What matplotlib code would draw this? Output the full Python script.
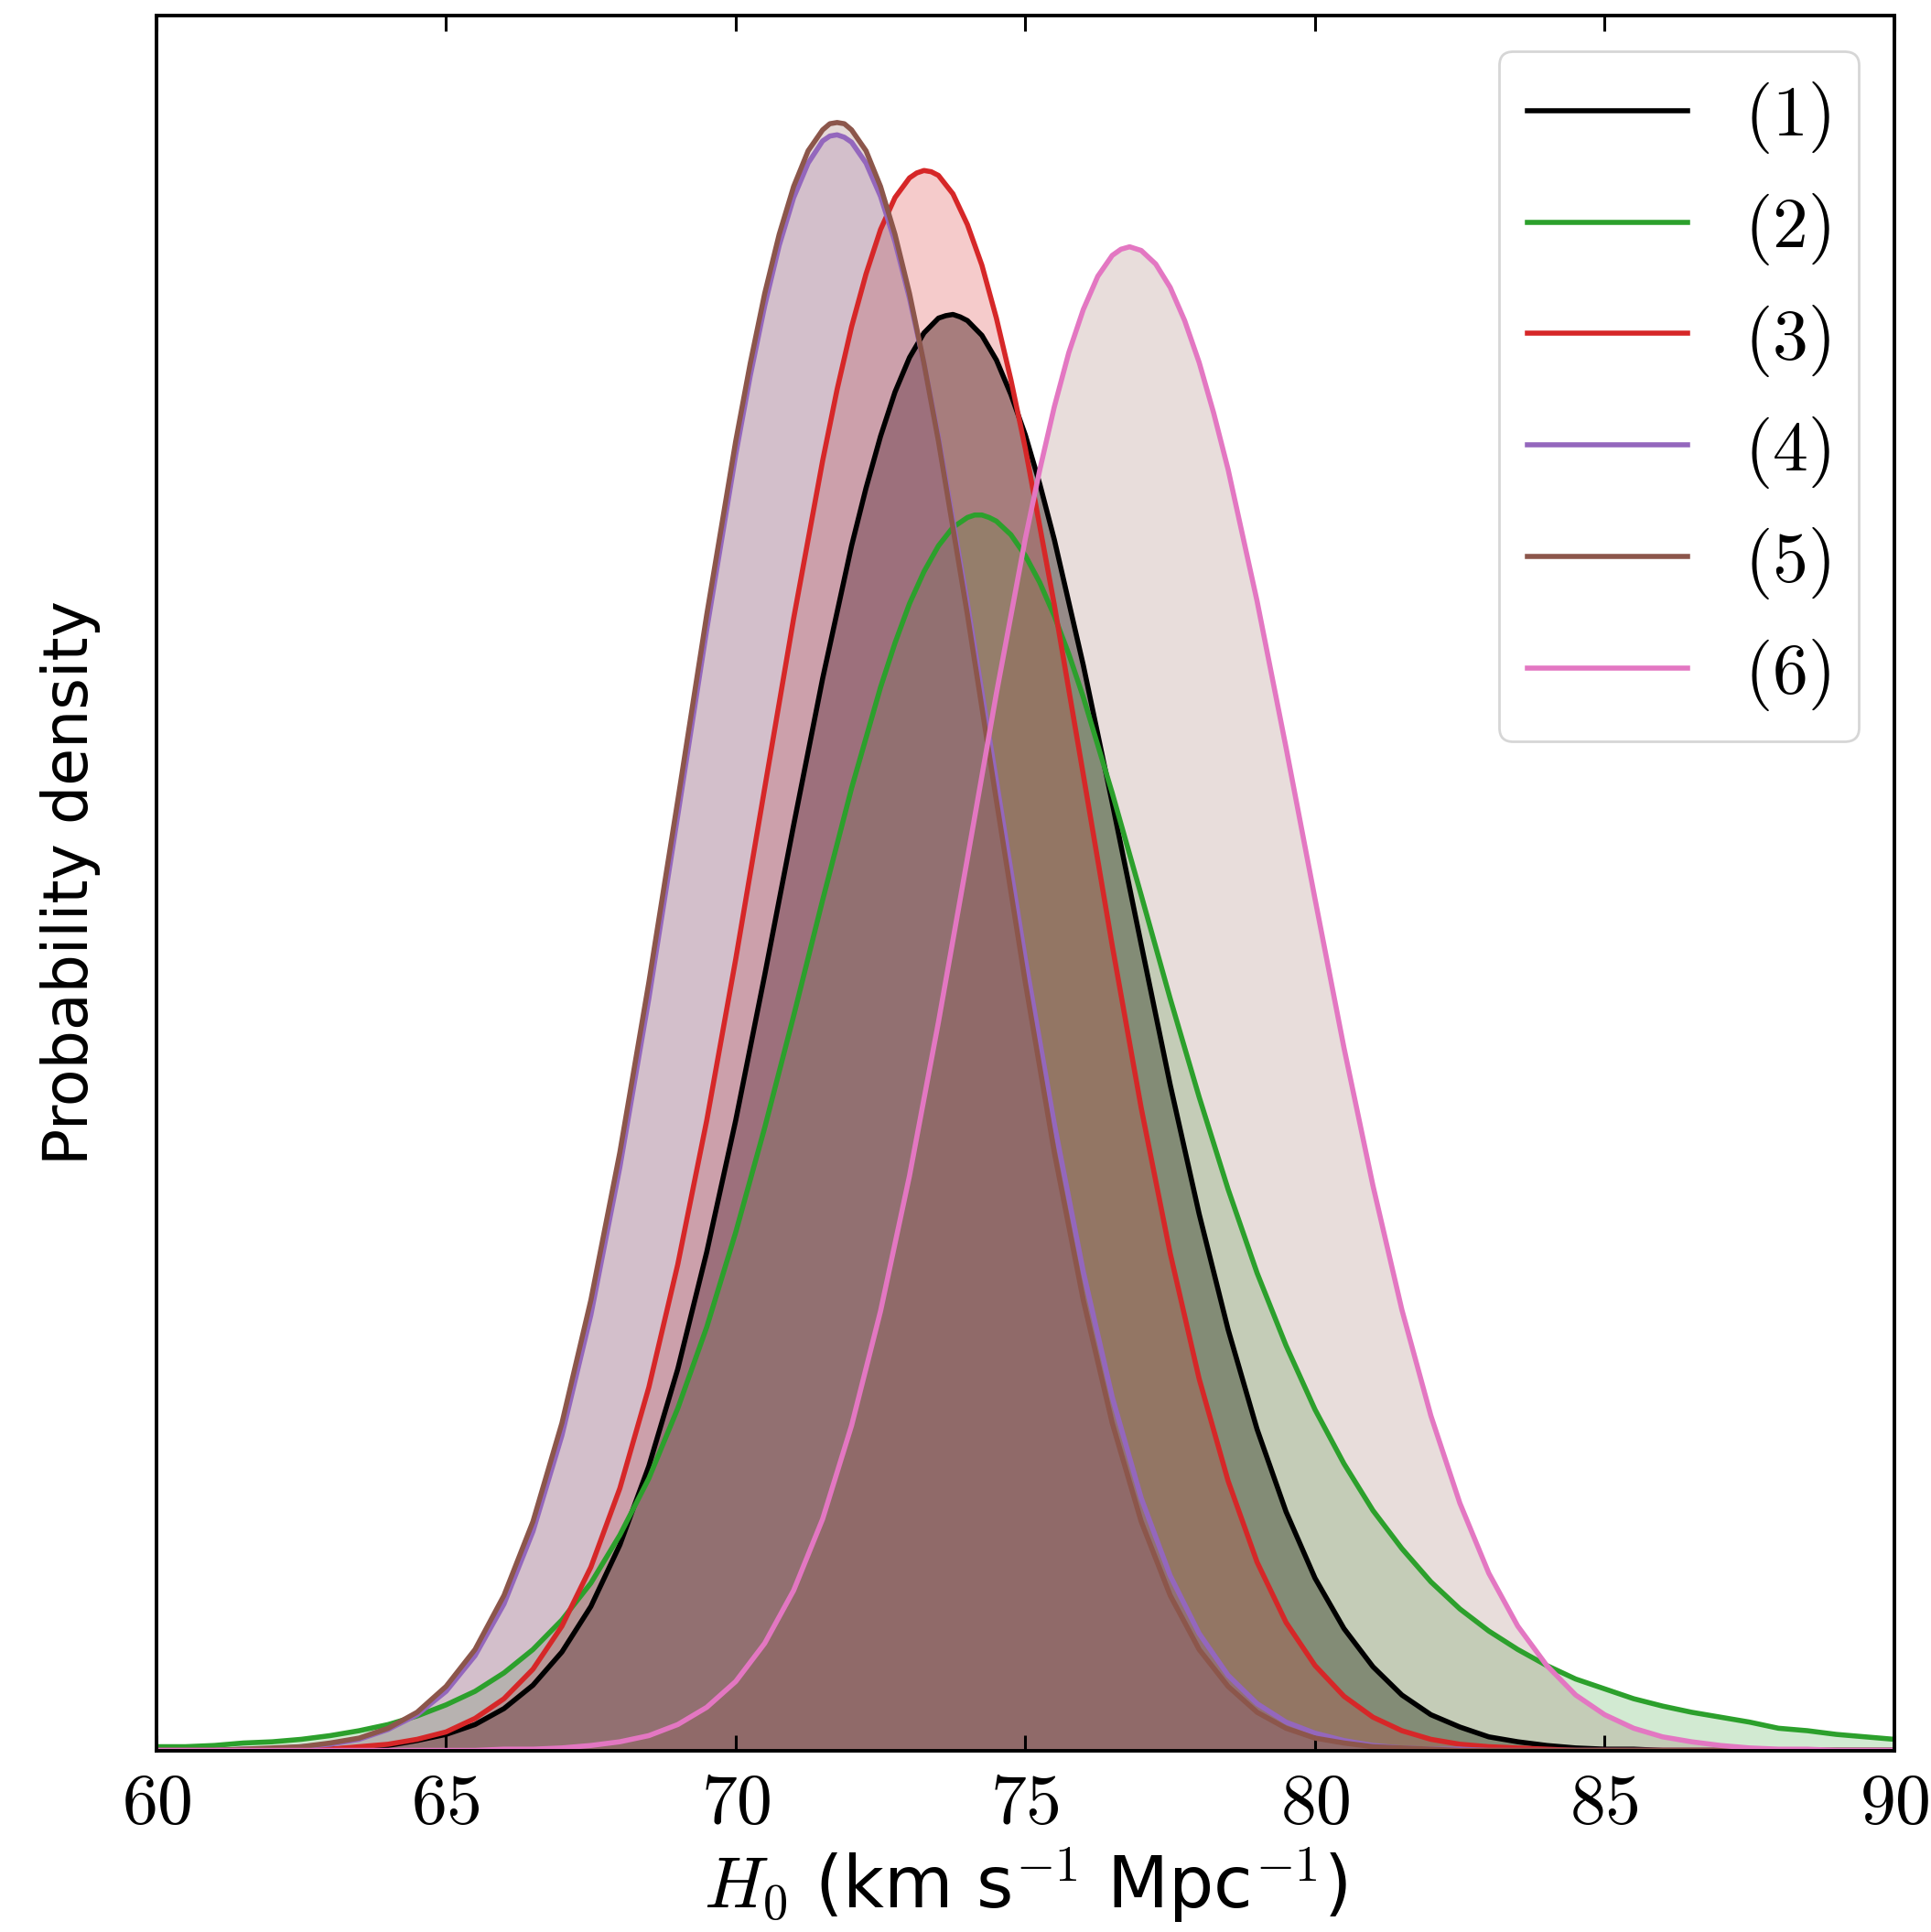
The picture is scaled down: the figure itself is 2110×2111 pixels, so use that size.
import matplotlib
matplotlib.use("Agg")
import matplotlib.pyplot as plt
import numpy as np

plt.rcParams["mathtext.fontset"] = "cm"
plt.rcParams["font.family"] = "DejaVu Sans"

# H0 sampling positions (km/s/Mpc), 60 .. 90 in steps of 0.5
h0 = np.arange(60, 90.25, 0.5)

labels = [r"$\mathsf{(1)}$", r"$\mathsf{(2)}$", r"$\mathsf{(3)}$",
          r"$\mathsf{(4)}$", r"$\mathsf{(5)}$", r"$\mathsf{(6)}$"]

# probability density at the h0 positions
dens_1 = [0, 0, 0, 0, 0, 0.0001, 0.0001, 0.0002, 0.0004, 0.0008,
          0.0013, 0.0021, 0.0034, 0.0053, 0.0080, 0.0117, 0.0167, 0.0231, 0.0310, 0.0405,
          0.0512, 0.0630, 0.0752, 0.0871, 0.0979, 0.1068, 0.1132, 0.1164, 0.1162, 0.1130,
          0.1069, 0.0984, 0.0882, 0.0770, 0.0655, 0.0541, 0.0436, 0.0342, 0.0261, 0.0194,
          0.0140, 0.0099, 0.0068, 0.0045, 0.0029, 0.0019, 0.0011, 0.0007, 0.0004, 0.0002,
          0.0001, 0.0001, 0, 0, 0, 0, 0, 0, 0, 0, 0]
dens_2 = [0.0003, 0.0003, 0.0004, 0.0006, 0.0007, 0.0009, 0.0012, 0.0016, 0.0021, 0.0028,
          0.0037, 0.0048, 0.0063, 0.0082, 0.0106, 0.0136, 0.0175, 0.0221, 0.0278, 0.0344,
          0.0421, 0.0506, 0.0597, 0.0691, 0.0782, 0.0864, 0.0932, 0.0979, 0.1002, 0.0999,
          0.0971, 0.0922, 0.0856, 0.0778, 0.0695, 0.0611, 0.0531, 0.0456, 0.0388, 0.0329,
          0.0277, 0.0233, 0.0195, 0.0164, 0.0137, 0.0115, 0.0097, 0.0082, 0.0069, 0.0058,
          0.0050, 0.0042, 0.0036, 0.0031, 0.0027, 0.0023, 0.0018, 0.0016, 0.0013, 0.0011, 0.0009]
dens_3 = [0, 0, 0, 0, 0, 0.0001, 0.0001, 0.0003, 0.0005, 0.0009,
          0.0015, 0.0026, 0.0042, 0.0066, 0.0101, 0.0149, 0.0213, 0.0295, 0.0395, 0.0512,
          0.0643, 0.0782, 0.0920, 0.1048, 0.1157, 0.1236, 0.1278, 0.1280, 0.1240, 0.1164,
          0.1058, 0.0931, 0.0793, 0.0654, 0.0522, 0.0404, 0.0302, 0.0219, 0.0153, 0.0104,
          0.0069, 0.0044, 0.0027, 0.0016, 0.0009, 0.0005, 0.0003, 0.0002, 0.0001, 0,
          0, 0, 0, 0, 0, 0, 0, 0, 0, 0, 0]
dens_4 = [0, 0, 0, 0.0001, 0.0001, 0.0003, 0.0005, 0.0009, 0.0017, 0.0029,
          0.0048, 0.0077, 0.0119, 0.0178, 0.0256, 0.0354, 0.0474, 0.0611, 0.0760, 0.0911,
          0.1053, 0.1174, 0.1262, 0.1308, 0.1307, 0.1263, 0.1180, 0.1067, 0.0932, 0.0788,
          0.0643, 0.0509, 0.0389, 0.0287, 0.0205, 0.0142, 0.0095, 0.0061, 0.0038, 0.0023,
          0.0014, 0.0008, 0.0004, 0.0002, 0.0001, 0.0001, 0, 0, 0, 0,
          0, 0, 0, 0, 0, 0, 0, 0, 0, 0, 0]
dens_5 = [0, 0, 0, 0.0001, 0.0002, 0.0003, 0.0006, 0.0010, 0.0018, 0.0031,
          0.0052, 0.0082, 0.0126, 0.0186, 0.0266, 0.0366, 0.0486, 0.0624, 0.0772, 0.0923,
          0.1064, 0.1184, 0.1271, 0.1317, 0.1317, 0.1271, 0.1184, 0.1064, 0.0923, 0.0772,
          0.0624, 0.0486, 0.0366, 0.0266, 0.0186, 0.0126, 0.0082, 0.0052, 0.0031, 0.0018,
          0.0010, 0.0006, 0.0003, 0.0002, 0.0001, 0, 0, 0, 0, 0,
          0, 0, 0, 0, 0, 0, 0, 0, 0, 0, 0]
dens_6 = [0, 0, 0, 0, 0, 0, 0, 0, 0, 0,
          0, 0, 0.0001, 0.0001, 0.0002, 0.0004, 0.0007, 0.0012, 0.0021, 0.0035,
          0.0056, 0.0087, 0.0130, 0.0188, 0.0264, 0.0357, 0.0467, 0.0592, 0.0725, 0.0859,
          0.0985, 0.1092, 0.1171, 0.1215, 0.1219, 0.1189, 0.1128, 0.1041, 0.0934, 0.0815,
          0.0692, 0.0571, 0.0459, 0.0358, 0.0272, 0.0201, 0.0144, 0.0101, 0.0069, 0.0045,
          0.0029, 0.0018, 0.0011, 0.0007, 0.0004, 0.0002, 0.0001, 0.0001, 0, 0, 0]

# extra, closer readings around each peak
near_x_1 = [72.25, 72.75, 73.25, 73.625, 73.75, 73.875, 74.25, 74.75, 75.25]
near_y_1 = [0.1026, 0.1104, 0.1152, 0.1166, 0.1167, 0.1165, 0.1150, 0.1102, 0.1029]
near_x_2 = [72.75, 73.25, 73.75, 74.125, 74.25, 74.375, 74.75, 75.25, 75.75]
near_y_2 = [0.0900, 0.0958, 0.0994, 0.1004, 0.1004, 0.1002, 0.0988, 0.0949, 0.0891]
near_x_3 = [71.75, 72.25, 72.75, 73.125, 73.25, 73.375, 73.75, 74.25, 74.75]
near_y_3 = [0.1106, 0.1200, 0.1262, 0.1282, 0.1284, 0.1283, 0.1265, 0.1207, 0.1114]
near_x_4 = [70.25, 70.75, 71.25, 71.625, 71.75, 71.875, 72.25, 72.75, 73.25]
near_y_4 = [0.1117, 0.1223, 0.1290, 0.1312, 0.1313, 0.1311, 0.1290, 0.1226, 0.1127]
near_x_5 = [70.25, 70.75, 71.25, 71.625, 71.75, 71.875, 72.25, 72.75, 73.25]
near_y_5 = [0.1127, 0.1232, 0.1300, 0.1322, 0.1323, 0.1322, 0.1300, 0.1232, 0.1127]
near_x_6 = [75.25, 75.75, 76.25, 76.65, 76.8, 77.25, 77.75, 78.25]
near_y_6 = [0.1041, 0.1136, 0.1198, 0.1220, 0.1222, 0.1208, 0.1162, 0.1087]

dens = [dens_1, dens_2, dens_3, dens_4, dens_5, dens_6]
near_x = [near_x_1, near_x_2, near_x_3, near_x_4, near_x_5, near_x_6]
near_y = [near_y_1, near_y_2, near_y_3, near_y_4, near_y_5, near_y_6]

line_colors = ["black", "tab:green", "tab:red", "tab:purple", "tab:brown", "tab:pink"]
fill_colors = ["black", "tab:green", "tab:red", "tab:purple", "tab:brown", "tab:brown"]
fill_alpha = [0.4, 0.21, 0.24, 0.22, 0.22, 0.2]

fig = plt.figure(figsize=(10.55, 10.555), dpi=200)
ax = fig.add_axes([0.081, 0.094, 0.9, 0.898])

curves = []
for d, nx, ny in zip(dens, near_x, near_y):
    pts = sorted(zip(list(h0) + nx, d + ny))
    curves.append(([p[0] for p in pts], [p[1] for p in pts]))

for (x, y), c, a in zip(curves, fill_colors, fill_alpha):
    ax.fill_between(x, y, 0, color=c, alpha=a, linewidth=0)

for (x, y), c, lab in zip(curves, line_colors, labels):
    ax.plot(x, y, color=c, lw=2.0, label=lab)

ax.set_xlim(60, 90)
ax.set_ylim(0, 0.141)
ticks = [60, 65, 70, 75, 80, 85, 90]
ax.set_xticks(ticks, labels=["$%d$" % t for t in ticks])
ax.set_yticks([])
ax.tick_params(axis="x", direction="in", top=True, length=6, width=1.1,
               labelsize=28, pad=7)
for s in ax.spines.values():
    s.set_linewidth(1.4)

ax.set_xlabel(r"$H_0$ (km s$^{-1}$ Mpc$^{-1}$)", fontsize=28, labelpad=3)
ax.set_ylabel("Probability density", fontsize=24, labelpad=22)
ax.legend(loc="upper right", fontsize=28, handlelength=2.25)

fig.savefig("out.png", dpi=200)
